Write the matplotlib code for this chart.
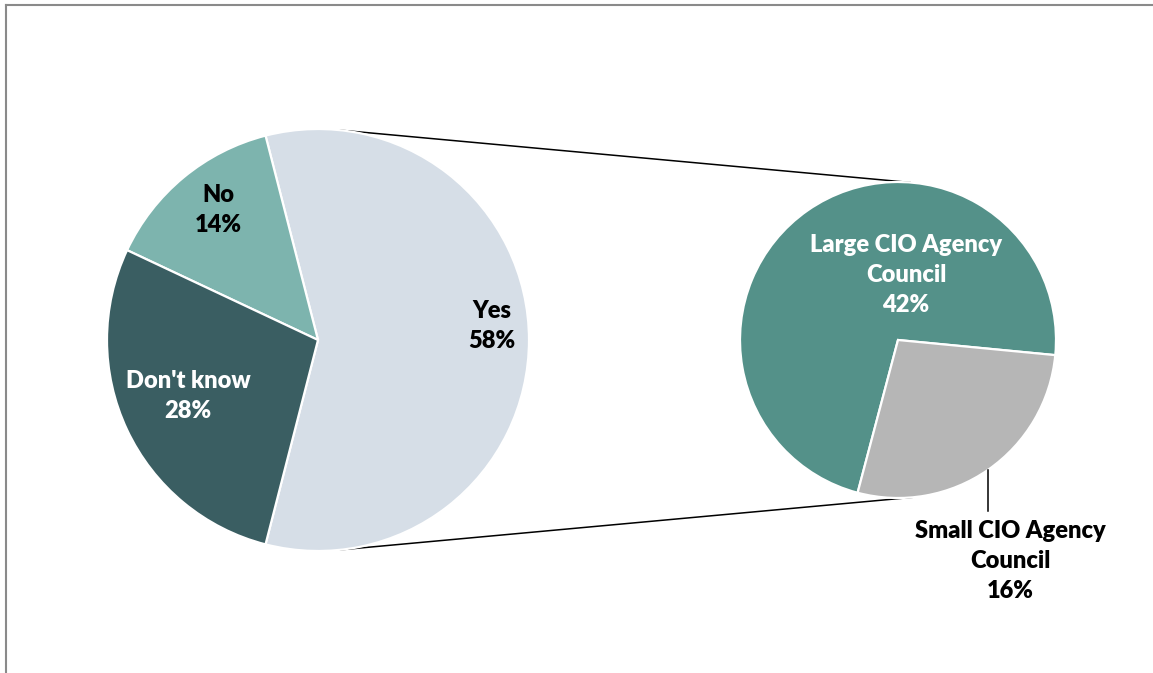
import numpy as np
import matplotlib
matplotlib.use("Agg")
import matplotlib.pyplot as plt
from matplotlib.lines import Line2D

plt.rcParams['font.family'] = ['Lato', 'DejaVu Sans']

# Main pie
main_labels = ["Yes", "No", "Don't know"]
main_values = [58, 14, 28]
main_colors = ["#D6DEE7", "#7DB4AE", "#3A5E62"]
main_text_colors = ["black", "black", "white"]

# Breakdown of "Yes"
sub_labels = ["Large CIO Agency\nCouncil", "Small CIO Agency\nCouncil"]
sub_values = [42, 16]
sub_colors = ["#549189", "#B6B6B6"]
sub_text_colors = ["white", "black"]

W, H = 1153, 673
fig = plt.figure(figsize=(W / 100, H / 100), dpi=100)
ax = fig.add_axes([0, 0, 1, 1])
ax.set_xlim(0, W)
ax.set_ylim(0, H)
ax.set_aspect('equal')
ax.axis('off')

# layout (pixel coordinates, y measured from the bottom)
c_main, r_main = (318, H - 340), 211
c_sub, r_sub = (898, H - 340), 158

yes_share = main_values[0] / sum(main_values) * 360.0
main_start = -yes_share / 2.0
ax.pie(main_values, colors=main_colors, startangle=main_start, counterclock=True,
       center=c_main, radius=r_main, frame=True,
       wedgeprops=dict(edgecolor='white', linewidth=1.6))

sub_start = -5.5
ax.pie(sub_values, colors=sub_colors, startangle=sub_start, counterclock=True,
       center=c_sub, radius=r_sub, frame=True,
       wedgeprops=dict(edgecolor='white', linewidth=1.6))
ax.set_xlim(0, W)
ax.set_ylim(0, H)
ax.axis('off')

# connector lines between the two pies
def edge_point(c, r, ang):
    a = np.deg2rad(ang)
    return c[0] + r * np.cos(a), c[1] + r * np.sin(a)

for a_main, a_sub in [(84.0, 85.6), (-84.0, -84.9)]:
    p1 = edge_point(c_main, r_main, a_main)
    p2 = edge_point(c_sub, r_sub, a_sub)
    ax.plot([p1[0], p2[0]], [p1[1], p2[1]], color='black', lw=1.1, zorder=0)

fs = 17
ls = 1.46

main_pos = [(492, 326), (218, 210), (188, 396)]
for lab, val, col, (x, y) in zip(main_labels, main_values, main_text_colors, main_pos):
    ax.text(x, H - y, f"{lab}\n{val}%", ha='center', va='center', color=col,
            fontsize=fs, fontweight='heavy', linespacing=ls, zorder=5)

sub_pos = [(906, 275), (1010, 561)]
for lab, val, col, (x, y) in zip(sub_labels, sub_values, sub_text_colors, sub_pos):
    ax.text(x, H - y, f"{lab}\n{val}%", ha='center', va='center', color=col,
            fontsize=fs, fontweight='heavy', linespacing=ls, zorder=5)

# leader line for the small slice label
ax.plot([988, 988], [H - 470, H - 511], color='black', lw=1.1, zorder=4)

# chart-area frame (top and left edges)
fig.add_artist(Line2D([5.5 / W, 1.0], [1 - 4.5 / H, 1 - 4.5 / H],
                      transform=fig.transFigure, color='#8A8A8A', lw=1.5))
fig.add_artist(Line2D([5.5 / W, 5.5 / W], [0, 1 - 4.5 / H],
                      transform=fig.transFigure, color='#8A8A8A', lw=1.5))

fig.savefig("out.png", dpi=100, facecolor='white')
